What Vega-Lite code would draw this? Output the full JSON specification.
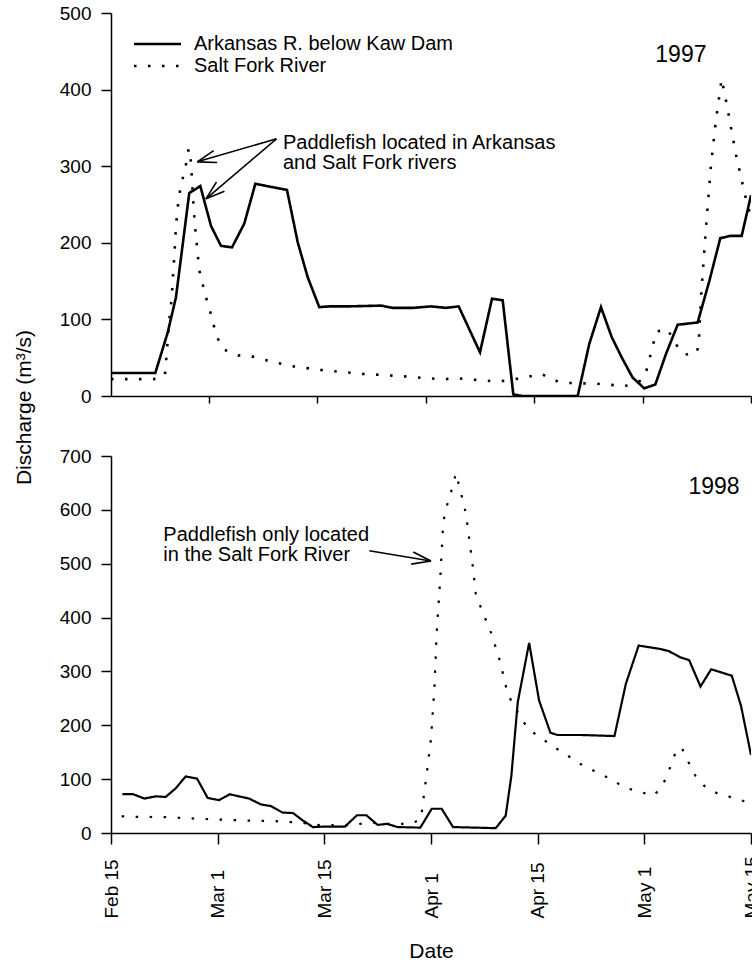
{
  "$schema": "https://vega.github.io/schema/vega-lite/v6.json",
  "padding": {"left": 13, "top": 4, "right": 0, "bottom": 0},
  "background": "white",
  "config": {
    "font": "Liberation Sans",
    "view": {"stroke": null},
    "axis": {
      "domainColor": "black", "tickColor": "black", "labelColor": "black", "titleColor": "black",
      "grid": false, "labelFontSize": 19, "titleFontSize": 21, "titleFontWeight": "normal",
      "domainWidth": 1.5, "tickWidth": 1.5
    },
    "text": {"color": "black"}
  },
  "datasets": {
    "flow": [
      {"year":1997,"river":"Arkansas R. below Kaw Dam","day":1.44,"q":30},
      {"year":1997,"river":"Arkansas R. below Kaw Dam","day":7.57,"q":30},
      {"year":1997,"river":"Arkansas R. below Kaw Dam","day":9.29,"q":83},
      {"year":1997,"river":"Arkansas R. below Kaw Dam","day":10.43,"q":129},
      {"year":1997,"river":"Arkansas R. below Kaw Dam","day":12.27,"q":265},
      {"year":1997,"river":"Arkansas R. below Kaw Dam","day":13.8,"q":274},
      {"year":1997,"river":"Arkansas R. below Kaw Dam","day":15.28,"q":222},
      {"year":1997,"river":"Arkansas R. below Kaw Dam","day":16.66,"q":196},
      {"year":1997,"river":"Arkansas R. below Kaw Dam","day":18.18,"q":194},
      {"year":1997,"river":"Arkansas R. below Kaw Dam","day":19.88,"q":225},
      {"year":1997,"river":"Arkansas R. below Kaw Dam","day":21.41,"q":277},
      {"year":1997,"river":"Arkansas R. below Kaw Dam","day":25.79,"q":269},
      {"year":1997,"river":"Arkansas R. below Kaw Dam","day":27.27,"q":201},
      {"year":1997,"river":"Arkansas R. below Kaw Dam","day":28.66,"q":155},
      {"year":1997,"river":"Arkansas R. below Kaw Dam","day":30.26,"q":116},
      {"year":1997,"river":"Arkansas R. below Kaw Dam","day":31.65,"q":117},
      {"year":1997,"river":"Arkansas R. below Kaw Dam","day":34.37,"q":117},
      {"year":1997,"river":"Arkansas R. below Kaw Dam","day":38.8,"q":118},
      {"year":1997,"river":"Arkansas R. below Kaw Dam","day":40.42,"q":115},
      {"year":1997,"river":"Arkansas R. below Kaw Dam","day":43.19,"q":115},
      {"year":1997,"river":"Arkansas R. below Kaw Dam","day":45.72,"q":117},
      {"year":1997,"river":"Arkansas R. below Kaw Dam","day":47.79,"q":115},
      {"year":1997,"river":"Arkansas R. below Kaw Dam","day":49.55,"q":117},
      {"year":1997,"river":"Arkansas R. below Kaw Dam","day":52.5,"q":57},
      {"year":1997,"river":"Arkansas R. below Kaw Dam","day":54.16,"q":127},
      {"year":1997,"river":"Arkansas R. below Kaw Dam","day":55.64,"q":125},
      {"year":1997,"river":"Arkansas R. below Kaw Dam","day":57.11,"q":2},
      {"year":1997,"river":"Arkansas R. below Kaw Dam","day":58.41,"q":0},
      {"year":1997,"river":"Arkansas R. below Kaw Dam","day":66.02,"q":0},
      {"year":1997,"river":"Arkansas R. below Kaw Dam","day":67.62,"q":68},
      {"year":1997,"river":"Arkansas R. below Kaw Dam","day":69.24,"q":116},
      {"year":1997,"river":"Arkansas R. below Kaw Dam","day":70.72,"q":77},
      {"year":1997,"river":"Arkansas R. below Kaw Dam","day":72.24,"q":48},
      {"year":1997,"river":"Arkansas R. below Kaw Dam","day":73.63,"q":24},
      {"year":1997,"river":"Arkansas R. below Kaw Dam","day":75.23,"q":10},
      {"year":1997,"river":"Arkansas R. below Kaw Dam","day":76.76,"q":15},
      {"year":1997,"river":"Arkansas R. below Kaw Dam","day":78.24,"q":55},
      {"year":1997,"river":"Arkansas R. below Kaw Dam","day":79.85,"q":93},
      {"year":1997,"river":"Arkansas R. below Kaw Dam","day":82.62,"q":96},
      {"year":1997,"river":"Arkansas R. below Kaw Dam","day":84.23,"q":150},
      {"year":1997,"river":"Arkansas R. below Kaw Dam","day":85.75,"q":206},
      {"year":1997,"river":"Arkansas R. below Kaw Dam","day":87.13,"q":209},
      {"year":1997,"river":"Arkansas R. below Kaw Dam","day":88.71,"q":209},
      {"year":1997,"river":"Arkansas R. below Kaw Dam","day":90,"q":262},
      {"year":1997,"river":"Salt Fork River","day":1.44,"q":22},
      {"year":1997,"river":"Salt Fork River","day":7.25,"q":22},
      {"year":1997,"river":"Salt Fork River","day":8.4,"q":23},
      {"year":1997,"river":"Salt Fork River","day":8.91,"q":28},
      {"year":1997,"river":"Salt Fork River","day":9.19,"q":60},
      {"year":1997,"river":"Salt Fork River","day":9.46,"q":95},
      {"year":1997,"river":"Salt Fork River","day":9.81,"q":125},
      {"year":1997,"river":"Salt Fork River","day":10.02,"q":155},
      {"year":1997,"river":"Salt Fork River","day":10.23,"q":188},
      {"year":1997,"river":"Salt Fork River","day":10.43,"q":222},
      {"year":1997,"river":"Salt Fork River","day":10.78,"q":256},
      {"year":1997,"river":"Salt Fork River","day":11.13,"q":276},
      {"year":1997,"river":"Salt Fork River","day":11.68,"q":295},
      {"year":1997,"river":"Salt Fork River","day":12.19,"q":323},
      {"year":1997,"river":"Salt Fork River","day":12.5,"q":306},
      {"year":1997,"river":"Salt Fork River","day":12.83,"q":252},
      {"year":1997,"river":"Salt Fork River","day":13.1,"q":218},
      {"year":1997,"river":"Salt Fork River","day":13.66,"q":164},
      {"year":1997,"river":"Salt Fork River","day":14.13,"q":146},
      {"year":1997,"river":"Salt Fork River","day":14.58,"q":129},
      {"year":1997,"river":"Salt Fork River","day":15.14,"q":111},
      {"year":1997,"river":"Salt Fork River","day":15.6,"q":94},
      {"year":1997,"river":"Salt Fork River","day":16.11,"q":77},
      {"year":1997,"river":"Salt Fork River","day":16.98,"q":61},
      {"year":1997,"river":"Salt Fork River","day":19.01,"q":53},
      {"year":1997,"river":"Salt Fork River","day":20.81,"q":52},
      {"year":1997,"river":"Salt Fork River","day":22.75,"q":47},
      {"year":1997,"river":"Salt Fork River","day":26.35,"q":39},
      {"year":1997,"river":"Salt Fork River","day":30.5,"q":34},
      {"year":1997,"river":"Salt Fork River","day":36.03,"q":29},
      {"year":1997,"river":"Salt Fork River","day":37.83,"q":28},
      {"year":1997,"river":"Salt Fork River","day":41.57,"q":26},
      {"year":1997,"river":"Salt Fork River","day":45.44,"q":23},
      {"year":1997,"river":"Salt Fork River","day":47.38,"q":22},
      {"year":1997,"river":"Salt Fork River","day":49.45,"q":23},
      {"year":1997,"river":"Salt Fork River","day":53.33,"q":20},
      {"year":1997,"river":"Salt Fork River","day":55.13,"q":19},
      {"year":1997,"river":"Salt Fork River","day":56.79,"q":21},
      {"year":1997,"river":"Salt Fork River","day":59.14,"q":25},
      {"year":1997,"river":"Salt Fork River","day":60.94,"q":29},
      {"year":1997,"river":"Salt Fork River","day":62.88,"q":20},
      {"year":1997,"river":"Salt Fork River","day":64.81,"q":17},
      {"year":1997,"river":"Salt Fork River","day":68.69,"q":16},
      {"year":1997,"river":"Salt Fork River","day":72.56,"q":13},
      {"year":1997,"river":"Salt Fork River","day":74.78,"q":20},
      {"year":1997,"river":"Salt Fork River","day":75.47,"q":31},
      {"year":1997,"river":"Salt Fork River","day":76.44,"q":66},
      {"year":1997,"river":"Salt Fork River","day":76.85,"q":84},
      {"year":1997,"river":"Salt Fork River","day":78.51,"q":87},
      {"year":1997,"river":"Salt Fork River","day":79.34,"q":70},
      {"year":1997,"river":"Salt Fork River","day":80.87,"q":54},
      {"year":1997,"river":"Salt Fork River","day":82.53,"q":56},
      {"year":1997,"river":"Salt Fork River","day":82.8,"q":74},
      {"year":1997,"river":"Salt Fork River","day":83.08,"q":129},
      {"year":1997,"river":"Salt Fork River","day":83.77,"q":220},
      {"year":1997,"river":"Salt Fork River","day":84.46,"q":301},
      {"year":1997,"river":"Salt Fork River","day":85.15,"q":360},
      {"year":1997,"river":"Salt Fork River","day":85.94,"q":414},
      {"year":1997,"river":"Salt Fork River","day":86.68,"q":379},
      {"year":1997,"river":"Salt Fork River","day":87.92,"q":315},
      {"year":1997,"river":"Salt Fork River","day":89.31,"q":257},
      {"year":1997,"river":"Salt Fork River","day":90,"q":233},
      {"year":1998,"river":"Arkansas R. below Kaw Dam","day":1.6,"q":72},
      {"year":1998,"river":"Arkansas R. below Kaw Dam","day":3.1,"q":72},
      {"year":1998,"river":"Arkansas R. below Kaw Dam","day":4.7,"q":64},
      {"year":1998,"river":"Arkansas R. below Kaw Dam","day":6.3,"q":68},
      {"year":1998,"river":"Arkansas R. below Kaw Dam","day":7.7,"q":67},
      {"year":1998,"river":"Arkansas R. below Kaw Dam","day":9.1,"q":83},
      {"year":1998,"river":"Arkansas R. below Kaw Dam","day":10.5,"q":105},
      {"year":1998,"river":"Arkansas R. below Kaw Dam","day":12.1,"q":101},
      {"year":1998,"river":"Arkansas R. below Kaw Dam","day":13.6,"q":65},
      {"year":1998,"river":"Arkansas R. below Kaw Dam","day":15.2,"q":61},
      {"year":1998,"river":"Arkansas R. below Kaw Dam","day":16.7,"q":72},
      {"year":1998,"river":"Arkansas R. below Kaw Dam","day":18.0,"q":68},
      {"year":1998,"river":"Arkansas R. below Kaw Dam","day":19.4,"q":64},
      {"year":1998,"river":"Arkansas R. below Kaw Dam","day":21.1,"q":53},
      {"year":1998,"river":"Arkansas R. below Kaw Dam","day":22.5,"q":50},
      {"year":1998,"river":"Arkansas R. below Kaw Dam","day":24.1,"q":38},
      {"year":1998,"river":"Arkansas R. below Kaw Dam","day":25.6,"q":37},
      {"year":1998,"river":"Arkansas R. below Kaw Dam","day":27.0,"q":23},
      {"year":1998,"river":"Arkansas R. below Kaw Dam","day":28.4,"q":11},
      {"year":1998,"river":"Arkansas R. below Kaw Dam","day":30.2,"q":12},
      {"year":1998,"river":"Arkansas R. below Kaw Dam","day":32.9,"q":12},
      {"year":1998,"river":"Arkansas R. below Kaw Dam","day":34.6,"q":33},
      {"year":1998,"river":"Arkansas R. below Kaw Dam","day":35.9,"q":33},
      {"year":1998,"river":"Arkansas R. below Kaw Dam","day":37.5,"q":15},
      {"year":1998,"river":"Arkansas R. below Kaw Dam","day":38.8,"q":17},
      {"year":1998,"river":"Arkansas R. below Kaw Dam","day":40.3,"q":11},
      {"year":1998,"river":"Arkansas R. below Kaw Dam","day":43.5,"q":10},
      {"year":1998,"river":"Arkansas R. below Kaw Dam","day":45.1,"q":45},
      {"year":1998,"river":"Arkansas R. below Kaw Dam","day":46.5,"q":45},
      {"year":1998,"river":"Arkansas R. below Kaw Dam","day":48.1,"q":11},
      {"year":1998,"river":"Arkansas R. below Kaw Dam","day":54.1,"q":9},
      {"year":1998,"river":"Arkansas R. below Kaw Dam","day":55.5,"q":32},
      {"year":1998,"river":"Arkansas R. below Kaw Dam","day":56.3,"q":106},
      {"year":1998,"river":"Arkansas R. below Kaw Dam","day":57.2,"q":243},
      {"year":1998,"river":"Arkansas R. below Kaw Dam","day":58.8,"q":353},
      {"year":1998,"river":"Arkansas R. below Kaw Dam","day":60.2,"q":246},
      {"year":1998,"river":"Arkansas R. below Kaw Dam","day":61.8,"q":186},
      {"year":1998,"river":"Arkansas R. below Kaw Dam","day":62.8,"q":182},
      {"year":1998,"river":"Arkansas R. below Kaw Dam","day":66.1,"q":182},
      {"year":1998,"river":"Arkansas R. below Kaw Dam","day":70.8,"q":180},
      {"year":1998,"river":"Arkansas R. below Kaw Dam","day":72.4,"q":277},
      {"year":1998,"river":"Arkansas R. below Kaw Dam","day":74.2,"q":348},
      {"year":1998,"river":"Arkansas R. below Kaw Dam","day":77.1,"q":342},
      {"year":1998,"river":"Arkansas R. below Kaw Dam","day":78.4,"q":338},
      {"year":1998,"river":"Arkansas R. below Kaw Dam","day":80.1,"q":326},
      {"year":1998,"river":"Arkansas R. below Kaw Dam","day":81.3,"q":321},
      {"year":1998,"river":"Arkansas R. below Kaw Dam","day":82.9,"q":272},
      {"year":1998,"river":"Arkansas R. below Kaw Dam","day":84.4,"q":304},
      {"year":1998,"river":"Arkansas R. below Kaw Dam","day":87.3,"q":292},
      {"year":1998,"river":"Arkansas R. below Kaw Dam","day":88.6,"q":236},
      {"year":1998,"river":"Arkansas R. below Kaw Dam","day":90,"q":145},
      {"year":1998,"river":"Salt Fork River","day":1.5,"q":31},
      {"year":1998,"river":"Salt Fork River","day":3.6,"q":30},
      {"year":1998,"river":"Salt Fork River","day":7.5,"q":29.5},
      {"year":1998,"river":"Salt Fork River","day":11.4,"q":27},
      {"year":1998,"river":"Salt Fork River","day":15.3,"q":25},
      {"year":1998,"river":"Salt Fork River","day":19.2,"q":23},
      {"year":1998,"river":"Salt Fork River","day":23.1,"q":22},
      {"year":1998,"river":"Salt Fork River","day":26.9,"q":19},
      {"year":1998,"river":"Salt Fork River","day":28.8,"q":15},
      {"year":1998,"river":"Salt Fork River","day":32.8,"q":14},
      {"year":1998,"river":"Salt Fork River","day":34.6,"q":16},
      {"year":1998,"river":"Salt Fork River","day":36.4,"q":20},
      {"year":1998,"river":"Salt Fork River","day":38.4,"q":17},
      {"year":1998,"river":"Salt Fork River","day":42.2,"q":17},
      {"year":1998,"river":"Salt Fork River","day":43.6,"q":26},
      {"year":1998,"river":"Salt Fork River","day":43.8,"q":50},
      {"year":1998,"river":"Salt Fork River","day":44.3,"q":100},
      {"year":1998,"river":"Salt Fork River","day":45.0,"q":175},
      {"year":1998,"river":"Salt Fork River","day":45.5,"q":274},
      {"year":1998,"river":"Salt Fork River","day":45.8,"q":373},
      {"year":1998,"river":"Salt Fork River","day":46.3,"q":472},
      {"year":1998,"river":"Salt Fork River","day":46.7,"q":572},
      {"year":1998,"river":"Salt Fork River","day":47.0,"q":597},
      {"year":1998,"river":"Salt Fork River","day":48.1,"q":646},
      {"year":1998,"river":"Salt Fork River","day":48.5,"q":668},
      {"year":1998,"river":"Salt Fork River","day":49.0,"q":643},
      {"year":1998,"river":"Salt Fork River","day":49.9,"q":594},
      {"year":1998,"river":"Salt Fork River","day":50.4,"q":544},
      {"year":1998,"river":"Salt Fork River","day":50.9,"q":493},
      {"year":1998,"river":"Salt Fork River","day":51.3,"q":444},
      {"year":1998,"river":"Salt Fork River","day":52.0,"q":419},
      {"year":1998,"river":"Salt Fork River","day":53.5,"q":370},
      {"year":1998,"river":"Salt Fork River","day":54.7,"q":319},
      {"year":1998,"river":"Salt Fork River","day":55.6,"q":269},
      {"year":1998,"river":"Salt Fork River","day":56.3,"q":244},
      {"year":1998,"river":"Salt Fork River","day":58.6,"q":194},
      {"year":1998,"river":"Salt Fork River","day":60.5,"q":176},
      {"year":1998,"river":"Salt Fork River","day":62.5,"q":158},
      {"year":1998,"river":"Salt Fork River","day":64.4,"q":142},
      {"year":1998,"river":"Salt Fork River","day":66.4,"q":125},
      {"year":1998,"river":"Salt Fork River","day":68.3,"q":113},
      {"year":1998,"river":"Salt Fork River","day":70.3,"q":100},
      {"year":1998,"river":"Salt Fork River","day":72.3,"q":84},
      {"year":1998,"river":"Salt Fork River","day":74.3,"q":77},
      {"year":1998,"river":"Salt Fork River","day":76.2,"q":69},
      {"year":1998,"river":"Salt Fork River","day":77.3,"q":82},
      {"year":1998,"river":"Salt Fork River","day":78.2,"q":106},
      {"year":1998,"river":"Salt Fork River","day":78.9,"q":132},
      {"year":1998,"river":"Salt Fork River","day":79.6,"q":157},
      {"year":1998,"river":"Salt Fork River","day":80.3,"q":157},
      {"year":1998,"river":"Salt Fork River","day":81.2,"q":132},
      {"year":1998,"river":"Salt Fork River","day":82.2,"q":106},
      {"year":1998,"river":"Salt Fork River","day":83.6,"q":85},
      {"year":1998,"river":"Salt Fork River","day":85.5,"q":72},
      {"year":1998,"river":"Salt Fork River","day":87.4,"q":66},
      {"year":1998,"river":"Salt Fork River","day":89.3,"q":58},
      {"year":1998,"river":"Salt Fork River","day":90,"q":55}
    ],
    "notes": [
      {"year":1997,"day":25.24,"q":322.7,"label":"Paddlefish located in Arkansas"},
      {"year":1997,"day":25.24,"q":296.6,"label":"and Salt Fork rivers"},
      {"year":1998,"day":7.36,"q":542.7,"label":"Paddlefish only located"},
      {"year":1998,"day":7.36,"q":505.6,"label":"in the Salt Fork River"}
    ],
    "years": [
      {"year":1997,"day":80.3,"q":436,"label":"1997"},
      {"year":1998,"day":84.8,"q":629,"label":"1998"}
    ],
    "arrows": [
      {"year":1997,"day":24.34,"q":335.8,"day2":13.37,"q2":305.7},
      {"year":1997,"day":13.37,"q":305.7,"day2":16.13,"q2":304.8},
      {"year":1997,"day":13.37,"q":305.7,"day2":15.65,"q2":320.4},
      {"year":1997,"day":24.34,"q":335.8,"day2":14.58,"q2":257.4},
      {"year":1997,"day":14.58,"q":257.4,"day2":17.14,"q2":267.3},
      {"year":1997,"day":14.58,"q":257.4,"day2":16.04,"q2":279.6},
      {"year":1998,"day":36.32,"q":524.1,"day2":45.0,"q2":505.0},
      {"year":1998,"day":45.0,"q":505.0,"day2":42.5,"q2":521.9},
      {"year":1998,"day":45.0,"q":505.0,"day2":42.22,"q2":499.3}
    ]
  },
  "vconcat": [
    {
      "width": 640,
      "height": 383,
      "layer": [
        {
          "data": {"name": "flow"},
          "transform": [{"filter": "datum.year == 1997"}],
          "mark": {"type": "line", "color": "black", "strokeWidth": 2.6, "clip": true},
          "encoding": {
            "x": {"field": "day", "type": "quantitative",
              "scale": {"domain": [1.44, 90], "nice": false, "zero": false},
              "axis": {"values": [15, 30, 45, 60, 75, 90], "labels": false, "title": null, "tickSize": 7}},
            "y": {"field": "q", "type": "quantitative",
              "scale": {"domain": [0, 500], "nice": false},
              "axis": {"values": [0, 100, 200, 300, 400, 500], "tickSize": 10, "labelPadding": 10,
                "title": "Discharge (m³/s)", "titleX": -77, "titleY": 394}},
            "strokeDash": {"field": "river", "type": "nominal",
              "scale": {"domain": ["Arkansas R. below Kaw Dam", "Salt Fork River"], "range": [[1, 0], [2.5, 11.5]]},
              "legend": {"orient": "none", "legendX": 36.5, "legendY": 21, "title": null,
                "symbolType": "M-4,0H4", "symbolSize": 138, "symbolStrokeWidth": 2.6, "symbolStrokeColor": "black",
                "labelFontSize": 20, "labelOffset": 26.5, "labelLimit": 500, "rowPadding": 2, "labelColor": "black"}}
          }
        },
        {
          "data": {"name": "arrows"},
          "transform": [{"filter": "datum.year == 1997"}],
          "mark": {"type": "rule", "color": "black", "strokeWidth": 1.6},
          "encoding": {
            "x": {"field": "day", "type": "quantitative"},
            "y": {"field": "q", "type": "quantitative"},
            "x2": {"field": "day2"},
            "y2": {"field": "q2"}
          }
        },
        {
          "data": {"name": "notes"},
          "transform": [{"filter": "datum.year == 1997"}],
          "mark": {"type": "text", "align": "left", "baseline": "alphabetic", "fontSize": 20},
          "encoding": {
            "x": {"field": "day", "type": "quantitative"},
            "y": {"field": "q", "type": "quantitative"},
            "text": {"field": "label"}
          }
        },
        {
          "data": {"name": "years"},
          "transform": [{"filter": "datum.year == 1997"}],
          "mark": {"type": "text", "align": "center", "baseline": "alphabetic", "fontSize": 23},
          "encoding": {
            "x": {"field": "day", "type": "quantitative"},
            "y": {"field": "q", "type": "quantitative"},
            "text": {"field": "label"}
          }
        }
      ]
    },
    {
      "width": 640,
      "height": 377,
      "layer": [
        {
          "data": {"name": "flow"},
          "transform": [{"filter": "datum.year == 1998"}],
          "mark": {"type": "line", "color": "black", "strokeWidth": 2.2, "clip": true},
          "encoding": {
            "x": {"field": "day", "type": "quantitative",
              "scale": {"domain": [0, 90], "nice": false, "zero": false},
              "axis": {"values": [0, 15, 30, 45, 60, 75, 90], "labelAngle": 270, "labelAlign": "left", "labelFontSize": 19,
                "labelExpr": "['Feb 15','Mar 1','Mar 15','Apr 1','Apr 15','May 1','May 15'][round(datum.value/15)]",
                "tickSize": 11, "labelPadding": 74, "title": "Date", "titlePadding": 22}},
            "y": {"field": "q", "type": "quantitative",
              "scale": {"domain": [0, 700], "nice": false},
              "axis": {"values": [0, 100, 200, 300, 400, 500, 600, 700], "tickSize": 10, "labelPadding": 10, "title": null}},
            "strokeDash": {"field": "river", "type": "nominal",
              "scale": {"domain": ["Arkansas R. below Kaw Dam", "Salt Fork River"], "range": [[1, 0], [2.5, 11.5]]},
              "legend": null}
          }
        },
        {
          "data": {"name": "arrows"},
          "transform": [{"filter": "datum.year == 1998"}],
          "mark": {"type": "rule", "color": "black", "strokeWidth": 1.6},
          "encoding": {
            "x": {"field": "day", "type": "quantitative"},
            "y": {"field": "q", "type": "quantitative"},
            "x2": {"field": "day2"},
            "y2": {"field": "q2"}
          }
        },
        {
          "data": {"name": "notes"},
          "transform": [{"filter": "datum.year == 1998"}],
          "mark": {"type": "text", "align": "left", "baseline": "alphabetic", "fontSize": 20},
          "encoding": {
            "x": {"field": "day", "type": "quantitative"},
            "y": {"field": "q", "type": "quantitative"},
            "text": {"field": "label"}
          }
        },
        {
          "data": {"name": "years"},
          "transform": [{"filter": "datum.year == 1998"}],
          "mark": {"type": "text", "align": "center", "baseline": "alphabetic", "fontSize": 23},
          "encoding": {
            "x": {"field": "day", "type": "quantitative"},
            "y": {"field": "q", "type": "quantitative"},
            "text": {"field": "label"}
          }
        }
      ]
    }
  ],
  "spacing": 60,
  "bounds": "flush",
  "resolve": {"scale": {"strokeDash": "independent"}}
}
